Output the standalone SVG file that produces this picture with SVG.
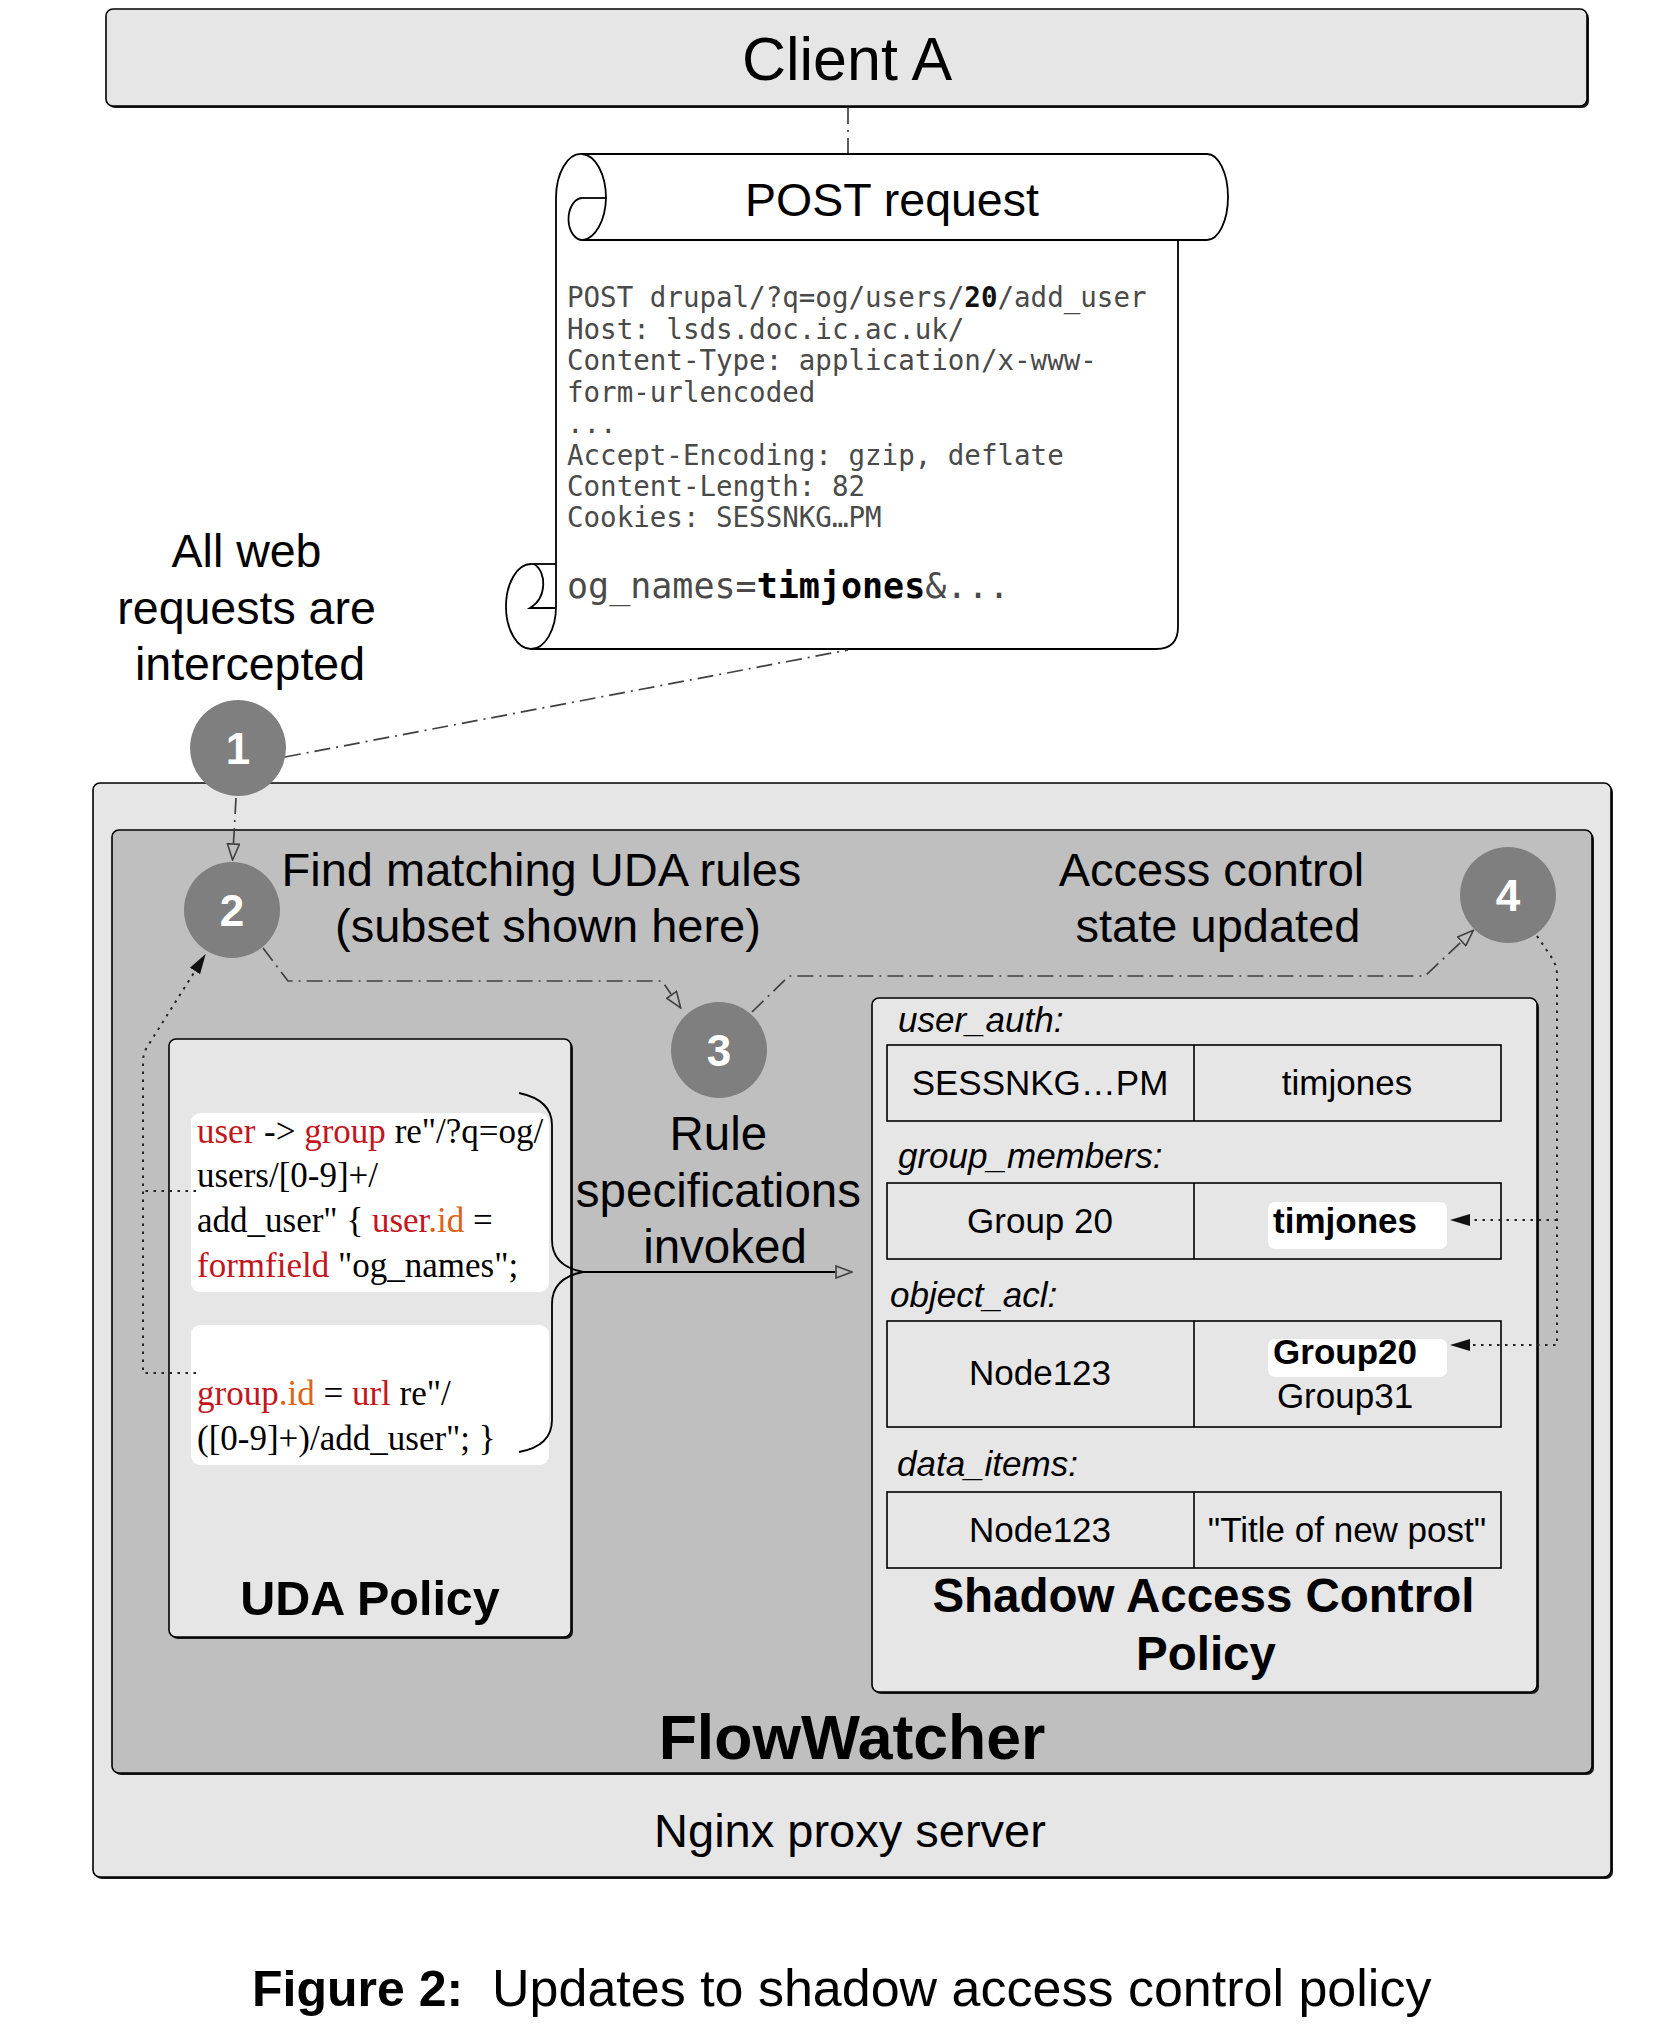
<svg xmlns="http://www.w3.org/2000/svg" width="1679" height="2026" viewBox="0 0 1679 2026">
<style>
.sans{font-family:"Liberation Sans",Arial,sans-serif;fill:#000}
.serif{font-family:"Liberation Serif","Times New Roman",serif;font-size:35px;fill:#000}
.mono{font-family:"DejaVu Sans Mono","Liberation Mono",monospace;fill:#4a4a4a}
.box{stroke:#000;stroke-width:1.6}
.shadow{fill:#1a1a1a}
.circ{fill:#7f7f7f}
.num{font-family:"Liberation Sans",Arial,sans-serif;font-weight:bold;font-size:44px;fill:#fff;text-anchor:middle}
.cell{fill:none;stroke:#000;stroke-width:1.6}
.lbl{font-family:"Liberation Sans",Arial,sans-serif;font-style:italic;font-size:35px}
.ct{font-family:"Liberation Sans",Arial,sans-serif;font-size:35px;text-anchor:middle}
.dd{fill:none;stroke:#404040;stroke-width:1.7;stroke-dasharray:16 6 2 6}
.dot{fill:none;stroke:#222;stroke-width:2;stroke-dasharray:2.5 5.5}
.red{fill:#c3161c}
.org{fill:#dc6414}
.scroll{fill:none;stroke:#000;stroke-width:1.8}
</style>
<defs>
<marker id="open" markerUnits="userSpaceOnUse" viewBox="0 0 18 14" markerWidth="18" markerHeight="14" refX="0" refY="7" orient="auto">
<path d="M1,1 L17,7 L1,13 Z" fill="none" stroke="#404040" stroke-width="1.6"/>
</marker>
<marker id="fill" markerUnits="userSpaceOnUse" viewBox="0 0 20 14" markerWidth="20" markerHeight="14" refX="0" refY="7" orient="auto">
<path d="M0,1 L20,7 L0,13 Z" fill="#111"/>
</marker>
</defs>
<rect width="1679" height="2026" fill="#fff"/>

<g id="client-a">
<rect class="shadow" x="108" y="11" width="1481" height="97" rx="7"/>
<rect class="box" x="106" y="9" width="1481" height="97" rx="7" fill="#e6e6e6"/>
<text class="sans" x="847" y="80" font-size="61" text-anchor="middle">Client A</text>
</g>

<g id="nginx">
<rect class="shadow" x="95" y="785" width="1518" height="1094" rx="7"/>
<rect class="box" x="93" y="783" width="1518" height="1094" rx="7" fill="#e6e6e6"/>
<text class="sans" x="850" y="1847" font-size="47" text-anchor="middle">Nginx proxy server</text>
</g>

<g id="flowwatcher">
<rect class="shadow" x="114" y="832" width="1480" height="943" rx="7"/>
<rect class="box" x="112" y="830" width="1480" height="943" rx="7" fill="#bfbfbf"/>
<text class="sans" x="852" y="1759" font-size="62.5" font-weight="bold" text-anchor="middle">FlowWatcher</text>
</g>

<g id="post-request">
<path class="scroll" d="M582,154 A25,44 0 0 0 556,198 L556,606"/>
<path class="scroll" d="M582,154 A25,44 0 0 1 606,198 A25,44 0 0 1 583,240"/>
<path class="scroll" d="M582,198 L606,198"/>
<path class="scroll" d="M582,198 A14,21 0 0 0 583,240"/>
<path class="scroll" d="M582,154 L1207,154 A21,43 0 0 1 1207,240 L583,240"/>
<path class="scroll" d="M1178,240 L1178,627 Q1178,649 1156,649 L531,649"/>
<path class="scroll" d="M531,564 A25,42.5 0 0 0 531,649 A25,42.5 0 0 0 556,606"/>
<path class="scroll" d="M531,564 L556,564"/>
<path class="scroll" d="M534,564 C547,572 547,598 530,608 L556,608"/>
<text class="sans" x="892" y="216" font-size="46.5" text-anchor="middle">POST request</text>
<text class="mono" font-size="27.5">
<tspan x="567" y="307">POST drupal/?q=og/users/<tspan font-weight="bold" fill="#111">20</tspan>/add_user</tspan>
<tspan x="567" y="339">Host: lsds.doc.ic.ac.uk/</tspan>
<tspan x="567" y="370">Content-Type: application/x-www-</tspan>
<tspan x="567" y="402">form-urlencoded</tspan>
<tspan x="567" y="433">...</tspan>
<tspan x="567" y="465">Accept-Encoding: gzip, deflate</tspan>
<tspan x="567" y="496">Content-Length: 82</tspan>
<tspan x="567" y="527">Cookies: SESSNKG…PM</tspan>
</text>
<text class="mono" x="567" y="598" font-size="35">og_names=<tspan font-weight="bold" fill="#000">timjones</tspan>&amp;...</text>
</g>

<g id="intercept-label">
<text class="sans" font-size="46.5" text-anchor="middle">
<tspan x="253" y="567">All web</tspan>
<tspan x="253" y="624">requests are</tspan>
<tspan x="250" y="680">intercepted</tspan>
</text>
</g>

<g id="uda-policy">
<rect class="shadow" x="171" y="1041" width="402" height="598" rx="7"/>
<rect class="box" x="169" y="1039" width="402" height="598" rx="7" fill="#e6e6e6"/>
<rect x="191" y="1113" width="358" height="179" rx="9" fill="#fff"/>
<rect x="191" y="1325" width="358" height="140" rx="9" fill="#fff"/>
<text class="serif" x="197" y="1143"><tspan class="red">user</tspan> -&gt; <tspan class="red">group</tspan> re"/?q=og/</text>
<text class="serif" x="197" y="1187">users/[0-9]+/</text>
<text class="serif" x="197" y="1232">add_user" { <tspan class="red">user</tspan><tspan class="org">.id</tspan> =</text>
<text class="serif" x="197" y="1277"><tspan class="red">formfield</tspan> "og_names";</text>
<text class="serif" x="197" y="1405"><tspan class="red">group</tspan><tspan class="org">.id</tspan> = <tspan class="red">url</tspan> re"/</text>
<text class="serif" x="197" y="1450">([0-9]+)/add_user"; }</text>
<path d="M519,1093 Q552,1100 552,1125 L552,1240 Q552,1266 583,1272 Q552,1278 552,1304 L552,1420 Q552,1446 519,1452" fill="none" stroke="#000" stroke-width="1.8"/>
<text class="sans" x="370" y="1615" font-size="48.5" font-weight="bold" text-anchor="middle">UDA Policy</text>
</g>

<g id="rule-label">
<text class="sans" font-size="47.5" text-anchor="middle">
<tspan x="725" y="1150">Rule</tspan>
<tspan x="725" y="1207">specifications</tspan>
<tspan x="725" y="1263">invoked</tspan>
</text>
</g>

<g id="find-label">
<text class="sans" font-size="47" text-anchor="middle">
<tspan x="548" y="886">Find matching UDA rules</tspan>
<tspan x="548" y="942">(subset shown here)</tspan>
</text>
</g>

<g id="access-label">
<text class="sans" font-size="47" text-anchor="middle">
<tspan x="1218" y="886">Access control</tspan>
<tspan x="1218" y="942">state updated</tspan>
</text>
</g>

<g id="shadow-policy">
<rect class="shadow" x="874" y="1000" width="665" height="694" rx="7"/>
<rect class="box" x="872" y="998" width="665" height="694" rx="7" fill="#e6e6e6"/>
<text class="lbl" x="898" y="1032">user_auth:</text>
<rect class="cell" x="887" y="1045" width="614" height="76"/>
<line class="cell" x1="1194" y1="1045" x2="1194" y2="1121"/>
<text class="ct" x="1040" y="1095">SESSNKG…PM</text>
<text class="ct" x="1347" y="1095">timjones</text>

<text class="lbl" x="898" y="1168">group_members:</text>
<rect class="cell" x="887" y="1183" width="614" height="76"/>
<line class="cell" x1="1194" y1="1183" x2="1194" y2="1259"/>
<text class="ct" x="1040" y="1233">Group 20</text>
<rect x="1268" y="1202" width="179" height="47" rx="7" fill="#fff"/>
<text class="ct" x="1345" y="1233" font-weight="bold">timjones</text>

<text class="lbl" x="890" y="1307">object_acl:</text>
<rect class="cell" x="887" y="1321" width="614" height="106"/>
<line class="cell" x1="1194" y1="1321" x2="1194" y2="1427"/>
<text class="ct" x="1040" y="1385">Node123</text>
<rect x="1268" y="1339" width="179" height="38" rx="7" fill="#fff"/>
<text class="ct" x="1345" y="1364" font-weight="bold">Group20</text>
<text class="ct" x="1345" y="1408">Group31</text>

<text class="lbl" x="897" y="1476">data_items:</text>
<rect class="cell" x="887" y="1492" width="614" height="76"/>
<line class="cell" x1="1194" y1="1492" x2="1194" y2="1568"/>
<text class="ct" x="1040" y="1542">Node123</text>
<text class="ct" x="1347" y="1542">"Title of new post"</text>

<text class="sans" font-size="47.5" font-weight="bold" text-anchor="middle">
<tspan x="1210" y="1612">Shadow Access Control</tspan>
<tspan x="1206" y="1670">Policy</tspan>
</text>
</g>

<g id="connectors">
<line class="dd" x1="848" y1="108" x2="848" y2="153"/>
<line class="dd" x1="285" y1="757" x2="848" y2="650"/>
<path class="dd" d="M236,798 L233.5,843" marker-end="url(#open)"/>
<path class="dd" d="M263,948 L288,981 L662,981 L671,994" marker-end="url(#open)"/>
<path class="dd" d="M752,1012 L789,976 L1425,976 L1461,942" marker-end="url(#open)"/>
<path d="M583,1272 L835,1272" fill="none" stroke="#000" stroke-width="1.8" marker-end="url(#open)"/>
<path class="dot" d="M196,1191 L143,1191"/>
<path class="dot" d="M196,1373 L143,1373 L143,1062 Q143,1052 149,1044 L195,971" marker-end="url(#fill)"/>
<path class="dot" d="M1537,936 L1552,958 Q1557,966 1557,975 L1557,1345 L1470,1345" marker-end="url(#fill)"/>
<path class="dot" d="M1557,1220 L1470,1220" marker-end="url(#fill)"/>
</g>

<g id="step-1">
<circle class="circ" cx="238" cy="748" r="48"/>
<text class="num" x="238" y="764">1</text>
</g>
<g id="step-2">
<circle class="circ" cx="232" cy="910" r="48"/>
<text class="num" x="232" y="926">2</text>
</g>
<g id="step-3">
<circle class="circ" cx="719" cy="1050" r="48"/>
<text class="num" x="719" y="1066">3</text>
</g>
<g id="step-4">
<circle class="circ" cx="1508" cy="895" r="48"/>
<text class="num" x="1508" y="911">4</text>
</g>

<g id="caption">
<text class="sans" x="252" y="2006" font-size="50" font-weight="bold">Figure 2:</text>
<text class="sans" x="492" y="2006" font-size="52">Updates to shadow access control policy</text>
</g>
</svg>
